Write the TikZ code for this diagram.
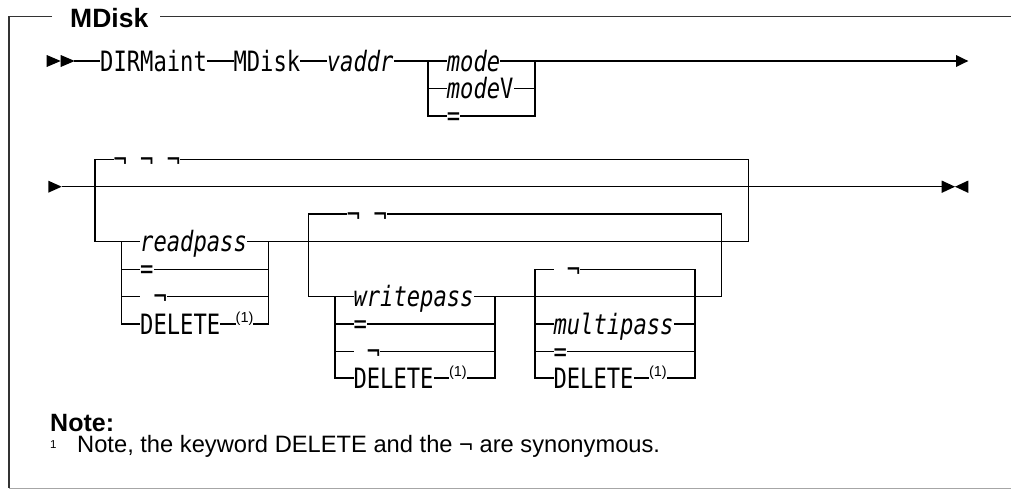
\documentclass[tikz,border=0pt]{standalone}
\usepackage{fontspec}
\setmainfont{Liberation Sans}
\newfontfamily\rrfont[FakeStretch=0.791]{DejaVu Sans Mono}
\begin{document}
\begin{tikzpicture}[x=1pt,y=-1pt,
  rail/.style={line width=1.1pt, line join=miter},
  kw/.style={font={\rrfont\fontsize{28}{30}\selectfont}, fill=white, inner xsep=0pt, inner ysep=0pt, text height=15pt, text depth=0pt, anchor=base west},
  var/.style={kw, font={\rrfont\itshape\fontsize{28}{30}\selectfont}},
  supnote/.style={font={\fontsize{14.5}{15}\selectfont}, fill=white, inner sep=0pt, anchor=base west},
  frameline/.style={line width=1.4pt, draw=black!80},
]
\useasboundingbox (0,0) rectangle (1011,490);

% frame
\draw[frameline] (160,16.7) -- (1011,16.7);
\draw[frameline] (52,16.7) -- (9,16.7) -- (9,488.3);
\draw[line width=1.5pt, draw=black!35] (9,488.3) -- (1011,488.3);
\node[font={\bfseries\fontsize{26.5}{28}\selectfont}, anchor=base west, inner sep=0pt] (title) at (70,27.8) {MDisk};

% ---------- row 1 ----------
\draw[rail] (74,61) -- (956,61);
\fill (46.7,55) -- (60.7,61) -- (46.7,67) -- cycle;
\fill (60.7,55) -- (74.7,61) -- (60.7,67) -- cycle;
\fill (956,55) -- (968.3,61) -- (956,67) -- cycle;
\draw[rail] (428,61) -- (428,116) -- (535,116) -- (535,61);
\draw[rail] (428,88.5) -- (535,88.5);
\node[kw] (dirmaint) at (100,71.2) {DIRMaint};
\node[kw] (mdisk) at (233.3,71.2) {MDisk};
\node[var] (vaddr) at (326.7,71.2) {vaddr};
\node[var] (mode) at (446.7,71.2) {mode};
\node[var] (modev) at (446.7,98.7) {mode\upshape V};
\node[kw] (modeeq) at (446.7,125.5) {=};

% ---------- row 2 ----------
\draw[rail] (61.7,186.7) -- (941.7,186.7);
\fill (48.3,180.7) -- (61.7,186.7) -- (48.3,192.7) -- cycle;
\fill (941.7,180.5) -- (955,186.7) -- (941.7,192.9) -- cycle;
\fill (968.3,180.5) -- (955,186.7) -- (968.3,192.9) -- cycle;

% outer loop
\draw[rail] (95,241.7) -- (95,159.3) -- (748.3,159.3) -- (748.3,241.7);
\draw[rail] (95,241.7) -- (748.3,241.7);
\node[kw] (def1) at (113.3,169.3) {¬ ¬ ¬};

% readpass group
\draw[rail] (121.7,241.7) -- (121.7,324) -- (268.3,324) -- (268.3,241.7);
\draw[rail] (121.7,269.3) -- (268.3,269.3);
\draw[rail] (121.7,296.7) -- (268.3,296.7);
\node[var] (readpass) at (140,251.9) {readpass};
\node[kw] (readeq) at (140,278.8) {=};
\node[kw] (readnot) at (140,306.7) {\ ¬\ };
\node[kw] (readdel) at (140,334.2) {DELETE};
\node[supnote] (readfn) at (235.5,322.5) {(1)};

% second loop
\draw[rail] (308.3,296.7) -- (308.3,214) -- (721.7,214) -- (721.7,296.7);
\draw[rail] (308.3,296.7) -- (721.7,296.7);
\node[kw] (def2) at (346.7,224) {¬ ¬};

% writepass group
\draw[rail] (335,296.7) -- (335,378) -- (495,378) -- (495,296.7);
\draw[rail] (335,324) -- (495,324);
\draw[rail] (335,351.7) -- (495,351.7);
\node[var] (writepass) at (353.3,306.9) {writepass};
\node[kw] (writeeq) at (353.3,333.5) {=};
\node[kw] (writenot) at (353.3,361.7) {\ ¬\ };
\node[kw] (writedel) at (353.3,388.2) {DELETE};
\node[supnote] (writefn) at (448.8,376.5) {(1)};

% third group
\draw[rail] (535,269.3) rectangle (695,378);
\draw[rail] (535,324) -- (695,324);
\draw[rail] (535,351.7) -- (695,351.7);
\node[kw] (def3) at (553.3,279.3) {\ ¬\ };
\node[var] (multipass) at (553.3,334.2) {multipass};
\node[kw] (multeq) at (553.3,361.2) {=};
\node[kw] (multdel) at (553.3,388.2) {DELETE};
\node[supnote] (multfn) at (648.8,376.5) {(1)};

% notes
\node[font={\bfseries\fontsize{25}{27}\selectfont}, anchor=base west, inner sep=0pt] (notehead) at (50,431.7) {Note:};
\node[font={\fontsize{11.5}{12}\selectfont}, anchor=base west, inner sep=0pt] (fnmark) at (50,448.3) {1};
\node[font={\fontsize{23.7}{25}\selectfont}, anchor=base west, inner sep=0pt] (fntext) at (77,452) {Note, the keyword DELETE and the ¬ are synonymous.};
\end{tikzpicture}
\end{document}
